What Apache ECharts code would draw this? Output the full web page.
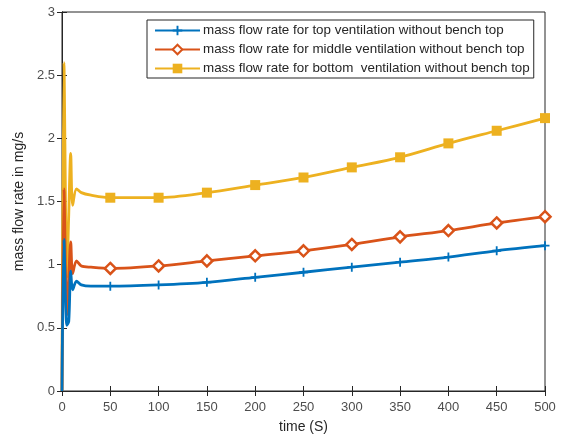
<!DOCTYPE html>
<html>
<head>
<meta charset="utf-8">
<script src="https://cdn.jsdelivr.net/npm/echarts@6/dist/echarts.min.js"></script>
<style>
  html, body { margin: 0; padding: 0; background: #fff; }
  #chart { width: 562px; height: 439px; }
</style>
</head>
<body>
<div id="chart"></div>
<script>
// time points (s)
const timeS = [0, 2, 5, 7, 9, 11, 15, 20, 30, 50, 100, 150, 200, 250, 300, 350, 400, 450, 500];
const topVent    = [0, 1.2, 0.52, 0.55, 0.95, 0.8, 0.87, 0.84, 0.83, 0.83, 0.84, 0.86, 0.90, 0.94, 0.98, 1.02, 1.06, 1.11, 1.15];
const middleVent = [0, 1.6, 0.6, 0.9, 1.18, 0.93, 1.03, 0.99, 0.98, 0.97, 0.99, 1.03, 1.07, 1.11, 1.16, 1.22, 1.27, 1.33, 1.38];
const bottomVent = [0, 2.6, 0.9, 1.4, 1.88, 1.47, 1.6, 1.57, 1.55, 1.53, 1.53, 1.57, 1.63, 1.69, 1.77, 1.85, 1.96, 2.06, 2.16];
const seriesNames = [
  'mass flow rate for top ventilation without bench top',
  'mass flow rate for middle ventilation without bench top',
  'mass flow rate for bottom  ventilation without bench top'
];

const colors = ['#0072BD', '#D95319', '#EDB120'];
const plusPath = 'path://M4,0h2v4h4v2h-4v4h-2v-4h-4v-2h4z';

// markers only every 50 s
function points(vals) {
  return timeS.map((t, i) => {
    const item = { value: [t, vals[i]] };
    if (!(t >= 50 && t % 50 === 0)) item.symbol = 'none';
    return item;
  });
}

const chart = echarts.init(document.getElementById('chart'));
const font = 'Liberation Sans, Arial, sans-serif';
const ink = '#262626';

const option = {
  animation: false,
  color: colors,
  grid: { left: 62, right: 17, top: 12, bottom: 48, show: true, borderColor: ink, borderWidth: 1 },
  legend: {
    orient: 'vertical',
    left: 147, top: 20,
    padding: [4, 4, 3, 7],
    itemWidth: 45, itemHeight: 12, itemGap: 6,
    borderColor: ink, borderWidth: 1,
    backgroundColor: '#fff',
    textStyle: { fontFamily: font, fontSize: 13.4, color: ink, padding: [0, 0, 0, -2] },
    data: seriesNames
  },
  xAxis: [{
    type: 'value', min: 0, max: 500, interval: 50,
    name: 'time (S)', nameLocation: 'middle', nameGap: 29,
    nameTextStyle: { fontFamily: font, fontSize: 14, color: ink },
    axisLine: { lineStyle: { color: ink } },
    axisTick: { inside: true, length: 5, lineStyle: { color: ink } },
    axisLabel: { fontFamily: font, fontSize: 13, color: '#4d4d4d', margin: 10 },
    splitLine: { show: false }
  }, {
    type: 'value', position: 'top', min: 0, max: 500, interval: 50,
    axisLine: { lineStyle: { color: ink } },
    axisTick: { inside: true, length: 5, lineStyle: { color: ink } },
    axisLabel: { show: false }, splitLine: { show: false }
  }],
  yAxis: [{
    type: 'value', min: 0, max: 3, interval: 0.5,
    name: 'mass flow rate in mg/s', nameLocation: 'middle', nameGap: 31,
    nameTextStyle: { fontFamily: font, fontSize: 14, color: ink },
    axisLine: { show: true, lineStyle: { color: ink } },
    axisTick: { show: true, inside: true, length: 5, lineStyle: { color: ink } },
    axisLabel: { fontFamily: font, fontSize: 13, color: '#4d4d4d', margin: 7 },
    splitLine: { show: false }
  }, {
    type: 'value', position: 'right', min: 0, max: 3, interval: 0.5,
    axisLine: { show: true, lineStyle: { color: ink } },
    axisTick: { show: true, inside: true, length: 5, lineStyle: { color: ink } },
    axisLabel: { show: false }, splitLine: { show: false }
  }],
  series: [
    {
      name: seriesNames[0], type: 'line', data: points(topVent), smooth: 0.3,
      symbol: plusPath, symbolSize: 9,
      lineStyle: { color: colors[0], width: 2.8 },
      itemStyle: { color: colors[0] }, z: 4
    },
    {
      name: seriesNames[1], type: 'line', data: points(middleVent), smooth: 0.3,
      symbol: 'diamond', symbolSize: 11,
      lineStyle: { color: colors[1], width: 2.8 },
      itemStyle: { color: '#fff', borderColor: colors[1], borderWidth: 2.5 }, z: 3
    },
    {
      name: seriesNames[2], type: 'line', data: points(bottomVent), smooth: 0.3,
      symbol: 'rect', symbolSize: 10,
      lineStyle: { color: colors[2], width: 2.8 },
      itemStyle: { color: colors[2] }, z: 2
    }
  ]
};
chart.setOption(option);
</script>
</body>
</html>
